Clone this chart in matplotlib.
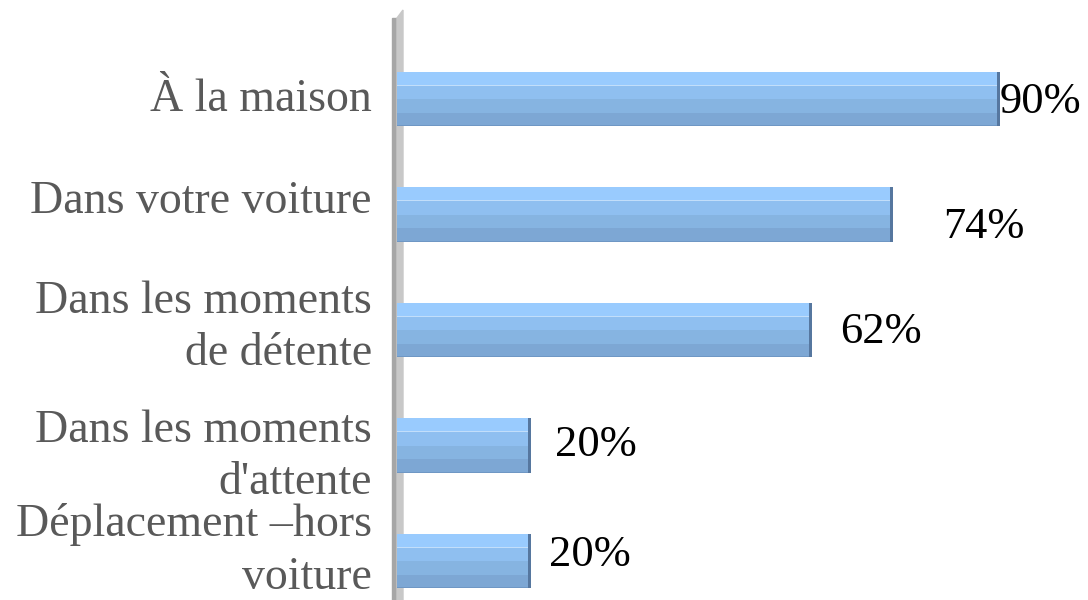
import matplotlib.pyplot as plt
from matplotlib.patches import Polygon, Rectangle
from matplotlib.transforms import blended_transform_factory, offset_copy

categories = [
    "À la maison",
    "Dans votre voiture",
    "Dans les moments\nde détente",
    "Dans les moments\nd'attente",
    "Déplacement –hors\nvoiture",
]
values = [90, 74, 62, 20, 20]
value_labels = ["90%", "74%", "62%", "20%", "20%"]

# decalages des etiquettes (pixels)
label_dx = [0, 50, 28, 24, 18]
label_dy = [3, 12, 2, -1, -6]
cat_dy = [1, -13, -2, 11, -10]

band_colors = ["#99cbfe", "#8fbff0", "#86b4e1", "#7da7d4"]
DPI = 100
SERIF = ["Liberation Serif", "DejaVu Serif"]


def dibujar_barras(ax, ys, vals, height):
    nb = len(band_colors)
    for k, color in enumerate(band_colors):
        h = height / nb
        offs = -height / 2 + h * (k + 0.5)
        ax.barh([y + offs for y in ys], vals, height=h, color=color, linewidth=0, zorder=2)
    ax.barh([y - height / 4 for y in ys], vals, height=0.012, color="#c2defa", linewidth=0, zorder=3)
    ax.barh([y + height / 2 - 0.006 for y in ys], vals, height=0.012, color="#6f97c4", linewidth=0, zorder=3)
    for y, v in zip(ys, vals):
        ax.barh(y, 0.45, left=v - 0.45, height=height, color="#56779f", linewidth=0, zorder=3)


def main():
    fig = plt.figure(figsize=(10.88, 6.0), dpi=DPI)
    ax = fig.add_axes([397 / 1088, 0, 670 / 1088, 590 / 600])
    ax.patch.set_visible(False)

    # mur gris de l'axe
    H = 600
    fig.patches.append(Rectangle((392 / 1088, 0), 5 / 1088, (H - 18) / H,
                                 transform=fig.transFigure, color="#a6a6a6", zorder=-2))
    fig.patches.append(Polygon([(397 / 1088, 0), (403 / 1088, 0), (403 / 1088, (H - 10) / H),
                                (397 / 1088, (H - 18) / H)],
                               closed=True, transform=fig.transFigure, color="#c8c8c8", zorder=-2))

    ys = list(range(len(categories)))
    dibujar_barras(ax, ys, values, 0.476)

    ax.set_xlim(0, 100)
    ax.set_ylim(4 + 39 / 115.5, -89 / 115.5)

    for s in ax.spines.values():
        s.set_visible(False)
    ax.set_xticks([])
    ax.set_yticks([])

    trans = blended_transform_factory(ax.transAxes, ax.transData)
    for y, cat, dy in zip(ys, categories, cat_dy):
        t = offset_copy(trans, fig=fig, x=-25 * 0.72, y=-dy * 0.72, units="points")
        ax.text(0, y, cat, transform=t, ha="right", va="center", fontsize=33,
                color="#595959", family=SERIF, linespacing=1.3)

    for y, v, lab, dx, dy in zip(ys, values, value_labels, label_dx, label_dy):
        ax.annotate(lab, (v, y), xytext=(dx * 0.72, -dy * 0.72), textcoords="offset points",
                    ha="left", va="center", fontsize=32, color="black", family=SERIF)

    fig.savefig("out.png", dpi=DPI)


if __name__ == "__main__":
    main()
